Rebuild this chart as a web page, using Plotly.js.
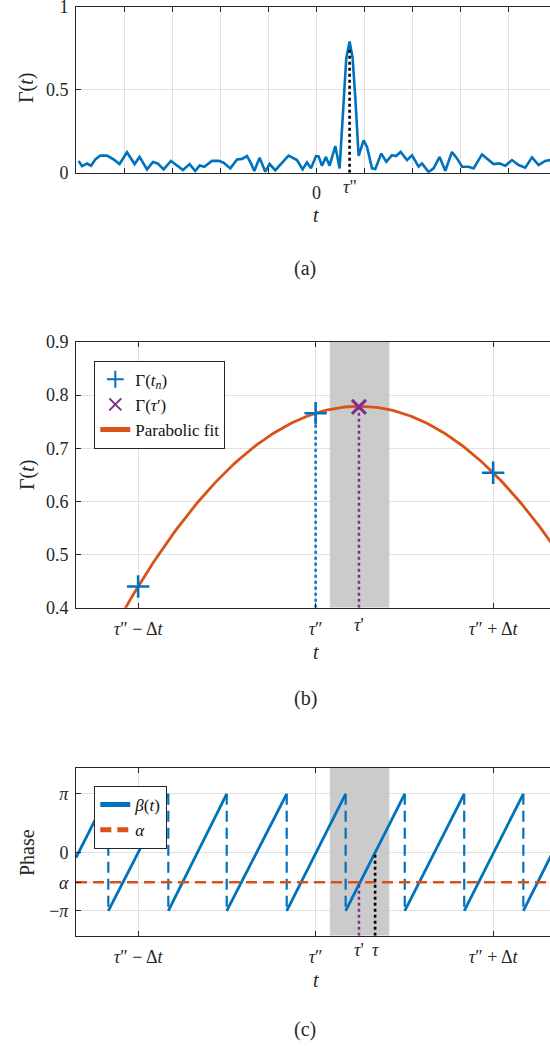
<!DOCTYPE html>
<html>
<head>
<meta charset="utf-8">
<script src="https://cdn.plot.ly/plotly-3.0.1.min.js"></script>
<style>
html, body { margin: 0; padding: 0; overflow: hidden; background: #fff; }
#chart { width: 556px; height: 1047px; }
</style>
</head>
<body>
<div id="chart"></div>
<script>
// ---------------- Panel (a) data ----------------
const tA = [-4.946,-4.875,-4.771,-4.688,-4.598,-4.494,-4.354,-4.217,-4.092,-3.938,-3.779,-3.675,-3.521,-3.396,-3.300,-3.175,-3.021,-2.896,-2.771,-2.633,-2.515,-2.425,-2.327,-2.167,-2.029,-1.925,-1.785,-1.646,-1.542,-1.438,-1.354,-1.285,-1.175,-1.056,-0.967,-0.848,-0.744,-0.571,-0.396,-0.279,-0.188,-0.104,0.000,0.054,0.125,0.208,0.283,0.402,0.492,0.575,0.631,0.700,0.763,0.819,0.888,0.992,1.063,1.167,1.235,1.360,1.465,1.583,1.667,1.763,1.896,2.000,2.138,2.208,2.346,2.450,2.575,2.694,2.833,2.938,3.042,3.179,3.283,3.458,3.596,3.700,3.819,3.944,4.083,4.221,4.360,4.500,4.638,4.773,4.881];
const gammaA = [0.070,0.040,0.055,0.042,0.080,0.103,0.103,0.080,0.052,0.123,0.052,0.095,0.020,0.065,0.056,0.020,0.071,0.042,0.016,0.052,0.010,0.044,0.036,0.071,0.071,0.060,0.026,0.080,0.083,0.100,0.056,0.010,0.090,0.006,0.052,0.015,0.046,0.103,0.076,0.020,0.062,0.026,0.100,0.098,0.042,0.095,0.042,0.160,0.026,0.452,0.690,0.790,0.690,0.450,0.101,0.195,0.155,0.026,0.022,0.115,0.065,0.105,0.100,0.125,0.076,0.105,0.036,0.056,0.004,0.026,0.095,0.012,0.125,0.086,0.036,0.036,0.026,0.110,0.080,0.052,0.056,0.042,0.076,0.046,0.030,0.092,0.046,0.071,0.076];
const ticksA = [-5,-4,-3,-2,-1,0,1,2,3,4,5];
const labelledTickA = 0;      // only the t = 0 tick carries a label
const tauPPA = 0.70;          // τ'' position in panel (a)
const tauPPGammaA = 0.75;     // top of dotted marker line

// ---------------- Panel (b) data ----------------
const ticksB = [-1, 0, 1];
const tickTextB = ['<i>τ</i>″ − Δ<i>t</i>', '<i>τ</i>″', '<i>τ</i>″ + Δ<i>t</i>'];
const tn = [-1, 0, 1];
const gammaTn = [0.440, 0.766, 0.654];
const tauPrime = 0.244;
const gammaTauPrime = 0.778;
const shadeLo = 0.08, shadeHi = 0.415;

// ---------------- Panel (c) data ----------------
const wrapT = [-1.168, -0.830, -0.501, -0.163, 0.169, 0.502, 0.837, 1.170];
const betaLeft = -0.29, betaRight = 0.35;
const alphaVal = -1.61;
const tauVal = 0.335;
const PI = Math.PI;
const ticksCy = [-PI, alphaVal, 0, PI];
const tickTextCy = ['−<i>π</i>', '<i>α</i>', '0', '<i>π</i>'];

// ---------------- styling ----------------
const FONT = '"Liberation Serif", "Times New Roman", serif';
const BLUE = '#0072BD', ORANGE = '#D95319', PURPLE = '#7E2F8E';
const AX = '#262626', GRID = '#e1e1e1';
const W = 556, H = 1047, PL = 76, PW = W - PL;
const px = x => (x - PL) / PW;
const py = y => 1 - y / H;

const xRangeA = [-5, 5];
const xRangeBC = [-1.35, 1.354];
const yRangeB = [0.4, 0.9];
const yRangeC = [-4.48, 4.53];

// parabola fit through the three Γ(t_n) samples
function fitParabola(xs, ys) {
  const [x0,x1,x2] = xs, [y0,y1,y2] = ys;
  const d = (x0-x1)*(x0-x2)*(x1-x2);
  const a = (x2*(y1-y0) + x1*(y0-y2) + x0*(y2-y1)) / d;
  const b = (x2*x2*(y0-y1) + x1*x1*(y2-y0) + x0*x0*(y1-y2)) / d;
  const c = (x1*x2*(x1-x2)*y0 + x2*x0*(x2-x0)*y1 + x0*x1*(x0-x1)*y2) / d;
  return [a,b,c];
}
const [pa, pb, pc] = fitParabola(tn, gammaTn);
const fitX = [], fitY = [];
for (let i = 0; i <= 200; i++) {
  const u = xRangeBC[0] + (xRangeBC[1]-xRangeBC[0]) * i / 200;
  fitX.push(u); fitY.push(pa*u*u + pb*u + pc);
}

// sawtooth built from the wrap instants
const betaX = [xRangeBC[0], wrapT[0]], betaY = [betaLeft, PI];
for (let i = 0; i < wrapT.length; i++) {
  betaX.push(null); betaY.push(null);
  betaX.push(wrapT[i]); betaY.push(-PI);
  if (i + 1 < wrapT.length) { betaX.push(wrapT[i+1]); betaY.push(PI); }
  else { betaX.push(xRangeBC[1]); betaY.push(betaRight); }
}
const jumpX = [], jumpY = [];
wrapT.forEach(w => { jumpX.push(w, w, null); jumpY.push(PI, -PI, null); });

const shade = (xa, ya, yr) => ({
  x: [shadeLo, shadeHi, shadeHi, shadeLo, shadeLo], y: [yr[0], yr[0], yr[1], yr[1], yr[0]],
  xaxis: xa, yaxis: ya, mode: 'lines', fill: 'toself', fillcolor: '#cbcbcb',
  line: {width: 0, color: '#cbcbcb'}, showlegend: false
});

const traces = [
  // (a)
  {x: tA, y: gammaA, xaxis: 'x', yaxis: 'y', mode: 'lines', line: {color: BLUE, width: 2.6}, showlegend: false},
  {x: [tauPPA, tauPPA], y: [0, tauPPGammaA], xaxis: 'x', yaxis: 'y', mode: 'lines', line: {color: '#000', width: 2.6, dash: 'dot'}, showlegend: false},
  // (b)
  shade('x2', 'y2', yRangeB),
  {x: fitX, y: fitY, xaxis: 'x2', yaxis: 'y2', mode: 'lines', line: {color: ORANGE, width: 2.8}, name: 'Parabolic fit', legend: 'legend', legendrank: 3},
  {x: [tn[1], tn[1]], y: [yRangeB[0], gammaTn[1]], xaxis: 'x2', yaxis: 'y2', mode: 'lines', line: {color: BLUE, width: 2.5, dash: 'dot'}, showlegend: false},
  {x: [tauPrime, tauPrime], y: [yRangeB[0], gammaTauPrime], xaxis: 'x2', yaxis: 'y2', mode: 'lines', line: {color: PURPLE, width: 2.5, dash: 'dot'}, showlegend: false},
  {x: tn, y: gammaTn, xaxis: 'x2', yaxis: 'y2', mode: 'markers', marker: {symbol: 'cross-thin', size: 16, color: BLUE, line: {color: BLUE, width: 2.6}}, name: 'Γ(<i>t</i><sub><i>n</i></sub>)', legend: 'legend', legendrank: 1},
  {x: [tauPrime], y: [gammaTauPrime], xaxis: 'x2', yaxis: 'y2', mode: 'markers', marker: {symbol: 'x-thin', size: 14, color: PURPLE, line: {color: PURPLE, width: 3}}, name: 'Γ(<i>τ</i>′)', legend: 'legend', legendrank: 2},
  // (c)
  shade('x3', 'y3', yRangeC),
  {x: jumpX, y: jumpY, xaxis: 'x3', yaxis: 'y3', mode: 'lines', line: {color: BLUE, width: 2.2, dash: '11px,6px'}, showlegend: false},
  {x: betaX, y: betaY, xaxis: 'x3', yaxis: 'y3', mode: 'lines', line: {color: BLUE, width: 2.8}, name: '<i>β</i>(<i>t</i>)', legend: 'legend2', legendrank: 1},
  {x: xRangeBC, y: [alphaVal, alphaVal], xaxis: 'x3', yaxis: 'y3', mode: 'lines', line: {color: ORANGE, width: 2.4, dash: '11px,6px'}, name: '<i>α</i>', legend: 'legend2', legendrank: 2},
  {x: [tauPrime, tauPrime], y: [yRangeC[0], alphaVal], xaxis: 'x3', yaxis: 'y3', mode: 'lines', line: {color: PURPLE, width: 2.5, dash: 'dot'}, showlegend: false},
  {x: [tauVal, tauVal], y: [yRangeC[0], 0], xaxis: 'x3', yaxis: 'y3', mode: 'lines', line: {color: '#000', width: 2.6, dash: 'dot'}, showlegend: false}
];

const axBase = {
  showline: true, linecolor: AX, linewidth: 1, mirror: 'ticks',
  ticks: 'inside', ticklen: 5, tickwidth: 1, tickcolor: AX,
  showgrid: true, gridcolor: GRID, gridwidth: 1, zeroline: false,
  ticklabeloverflow: 'allow',
  tickfont: {family: FONT, size: 18, color: AX}, fixedrange: true
};
const xAx = (extra) => Object.assign({}, axBase, {ticklabelstandoff: 5}, extra);
const yAx = (extra) => Object.assign({}, axBase, {ticklabelstandoff: 3}, extra);

const legendBase = {
  xanchor: 'left', yanchor: 'top', bgcolor: '#fff', bordercolor: AX, borderwidth: 1,
  font: {family: FONT, size: 17, color: '#111'}, tracegroupgap: 0, itemsizing: 'constant'
};

const ann = (text, x, y, size, extra) => Object.assign({
  text, x, y, xref: 'paper', yref: 'paper', xanchor: 'center', yanchor: 'middle',
  showarrow: false, font: {family: FONT, size, color: AX}
}, extra || {});

const layout = {
  width: W, height: H, autosize: false,
  margin: {l: PL, r: 0, t: 0, b: 0},
  paper_bgcolor: '#fff', plot_bgcolor: '#fff',
  hovermode: false,
  font: {family: FONT, color: AX},
  xaxis: xAx({domain: [0, 1], anchor: 'y', range: xRangeA, tickmode: 'array', tickvals: ticksA, showticklabels: false}),
  yaxis: yAx({domain: [py(172.7), py(6.5)], anchor: 'x', range: [0, 1], tickmode: 'array', tickvals: [0, 0.5, 1], ticktext: ['0', '0.5', '1']}),
  xaxis2: xAx({domain: [0, 1], anchor: 'y2', range: xRangeBC, tickmode: 'array', tickvals: ticksB, ticktext: tickTextB}),
  yaxis2: yAx({domain: [py(607.7), py(342)], anchor: 'x2', range: yRangeB, tickmode: 'array', tickvals: [0.4,0.5,0.6,0.7,0.8,0.9], ticktext: ['0.4','0.5','0.6','0.7','0.8','0.9']}),
  xaxis3: xAx({domain: [0, 1], anchor: 'y3', range: xRangeBC, tickmode: 'array', tickvals: ticksB, ticktext: tickTextB}),
  yaxis3: yAx({domain: [py(935.7), py(768)], anchor: 'x3', range: yRangeC, tickmode: 'array', tickvals: ticksCy, ticktext: tickTextCy}),
  legend: Object.assign({}, legendBase, {x: px(94.3), y: py(360.7)}),
  legend2: Object.assign({}, legendBase, {x: px(94.3), y: py(786)}),
  annotations: [
    // panel (a)
    ann('Γ(<i>t</i>)', px(27), py(88), 20, {textangle: -90}),
    ann(String(labelledTickA), labelledTickA, py(192.5), 18, {xref: 'x'}),
    ann('<i>t</i>', px(315.7), py(215), 20),
    ann('(a)', px(305), py(268), 20),
    ann('<i>τ</i>"', tauPPA, py(187), 18, {xref: 'x'}),
    // panel (b)
    ann('Γ(<i>t</i>)', px(27), py(475), 20, {textangle: -90}),
    ann('<i>t</i>', px(315.7), py(651.7), 20),
    ann('(b)', px(305), py(698), 20),
    ann("<i>τ</i>'", tauPrime, py(625), 18, {xref: 'x2'}),
    // panel (c)
    ann('Phase', px(27), py(853), 20, {textangle: -90}),
    ann('<i>t</i>', px(315.7), py(980), 20),
    ann('(c)', px(305), py(1029), 20),
    ann("<i>τ</i>'", tauPrime, py(950), 18, {xref: 'x3'}),
    ann('<i>τ</i>', tauVal, py(950), 18, {xref: 'x3'})
  ]
};

Plotly.newPlot('chart', traces, layout, {staticPlot: true, displayModeBar: false});
</script>
</body>
</html>
